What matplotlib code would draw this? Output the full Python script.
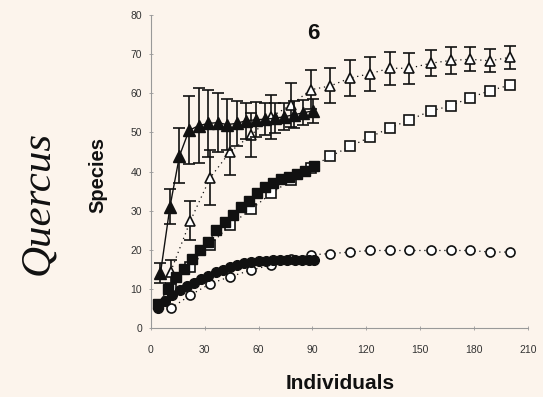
import matplotlib
matplotlib.use("Agg")
import matplotlib.pyplot as plt

# ---- data ----
# filled triangles (solid line, error bars)
ft_x = [5.3, 10.6, 15.9, 21.2, 26.5, 31.8, 37.1, 42.4, 47.7, 53.0, 58.3, 63.6, 68.9, 74.2, 79.5, 84.8, 90.1]
ft_y = [14, 31, 44, 50.5, 51.7, 52.3, 52.5, 52, 52.3, 53, 53.2, 53.4, 53.6, 54, 54.5, 55, 55.5]
ft_err = [2.5, 4.5, 7, 8.7, 9.6, 8.5, 7.5, 6.5, 5.8, 4.6, 4.5, 4, 3.8, 3.5, 3.5, 3.2, 3]

# open triangles (dotted line, error bars)
ot_x = [11, 22, 33, 44, 56, 67, 78, 89, 100, 111, 122, 133, 144, 156, 167, 178, 189, 200]
ot_y = [14.4, 27.4, 38.4, 45, 49.4, 54, 57, 60.9, 61.9, 63.9, 65, 66.4, 66.4, 67.7, 68.4, 68.7, 68.3, 69.2]
ot_err = [3, 5, 7, 5.8, 5.6, 5.6, 5.6, 5, 4.5, 4.7, 4.3, 4.2, 3.9, 3.4, 3.4, 3.1, 2.9, 3]

# filled squares
fs_x = [4, 9.5, 14, 18.5, 23, 27.5, 32, 36.5, 41, 45.5, 50, 54.5, 59, 63.5, 68, 72.5, 77, 81.5, 86, 91]
fs_y = [6, 10, 13, 15, 17.5, 20, 22, 25, 27, 29, 31, 32.5, 34.5, 36, 37, 38, 38.7, 39.3, 40.2, 41.3]

# open squares
os_x = [11, 22, 33, 44, 56, 67, 78, 89, 100, 111, 122, 133, 144, 156, 167, 178, 189, 200]
os_y = [10, 15.5, 21.2, 26.3, 30.4, 34.4, 37.8, 41, 43.9, 46.4, 48.8, 51.1, 53.2, 55.5, 56.8, 58.9, 60.7, 62.1]

# filled circles
fc_x = [4, 8, 12, 16, 20, 24, 28, 32, 36, 40, 44, 48, 52, 56, 60, 64, 68, 72, 76, 80, 84, 88, 91]
fc_y = [5, 7, 8.5, 9.7, 10.7, 11.6, 12.5, 13.4, 14.2, 14.9, 15.5, 16, 16.5, 16.9, 17.1, 17.2, 17.3, 17.3, 17.4, 17.4, 17.4, 17.4, 17.4]

# open circles
oc_x = [11, 22, 33, 44, 56, 67, 78, 89, 100, 111, 122, 133, 144, 156, 167, 178, 189, 200]
oc_y = [5, 8.4, 11.3, 13.1, 14.8, 16.1, 17.5, 18.7, 19, 19.4, 19.8, 19.8, 19.8, 19.8, 19.8, 19.8, 19.4, 19.4]

x_ticks = [0, 30, 60, 90, 120, 150, 180, 210]
y_ticks = [0, 10, 20, 30, 40, 50, 60, 70, 80]

bg = "#fcf4ec"
ink = "#111111"

fig = plt.figure(figsize=(5.43, 3.97), dpi=100, facecolor=bg)
ax = fig.add_axes([0.278, 0.174, 0.694, 0.788])
ax.set_facecolor(bg)

# open circles
ax.plot(oc_x, oc_y, linestyle=(0, (1, 3)), color=ink, lw=0.9,
        marker="o", ms=6.5, mfc="white", mec=ink, mew=1.2, zorder=3)
# open squares
ax.plot(os_x, os_y, linestyle=(0, (1, 3)), color=ink, lw=0.9,
        marker="s", ms=6.5, mfc="white", mec=ink, mew=1.2, zorder=3)
# open triangles with error bars
ax.errorbar(ot_x, ot_y, yerr=ot_err, fmt="^", linestyle=(0, (1, 3)), color=ink, lw=0.9,
            ms=7.5, mfc="white", mec=ink, mew=1.2, ecolor=ink, elinewidth=1.2,
            capsize=4.5, capthick=1.2, zorder=4)
# filled squares
ax.plot(fs_x, fs_y, linestyle="-", color=ink, lw=0.8,
        marker="s", ms=6.5, mfc=ink, mec=ink, zorder=5)
# filled circles
ax.plot(fc_x, fc_y, linestyle="-", color=ink, lw=0.8,
        marker="o", ms=7, mfc=ink, mec=ink, zorder=5)
# filled triangles with error bars
ax.errorbar(ft_x, ft_y, yerr=ft_err, fmt="^", linestyle="-", color=ink, lw=1.0,
            ms=8, mfc=ink, mec=ink, ecolor=ink, elinewidth=1.2,
            capsize=4.5, capthick=1.2, zorder=6)

ax.set_xlim(0, 210)
ax.set_ylim(0, 80)
ax.set_xticks(x_ticks)
ax.set_yticks(y_ticks)
for s in ["top", "right"]:
    ax.spines[s].set_visible(False)
for s in ["left", "bottom"]:
    ax.spines[s].set_color("#999999")
    ax.spines[s].set_linewidth(0.8)
ax.tick_params(axis="both", colors="#999999", labelcolor="#333333", labelsize=7.5,
               length=3, width=0.6, direction="inout")
ax.tick_params(axis="x", pad=11)
ax.tick_params(axis="y", pad=5)
for lab in ax.get_xticklabels() + ax.get_yticklabels():
    lab.set_fontfamily("Liberation Sans")

ax.text(0.43, 0.94, "6", transform=ax.transAxes, fontsize=16, fontweight="bold",
        family="Liberation Sans", color=ink, ha="center", va="center")

fig.text(0.18, 0.56, "Species", rotation=90, fontsize=14.5, fontweight="bold",
         family="Liberation Sans", color=ink, ha="center", va="center")
fig.text(0.626, 0.035, "Individuals", fontsize=15, fontweight="bold",
         family="Liberation Sans", color=ink, ha="center", va="center")
fig.text(0.07, 0.49, "Quercus", rotation=90, fontsize=31, style="italic",
         family="Liberation Serif", color=ink, ha="center", va="center")

fig.savefig("out.png", dpi=100, facecolor=bg)
